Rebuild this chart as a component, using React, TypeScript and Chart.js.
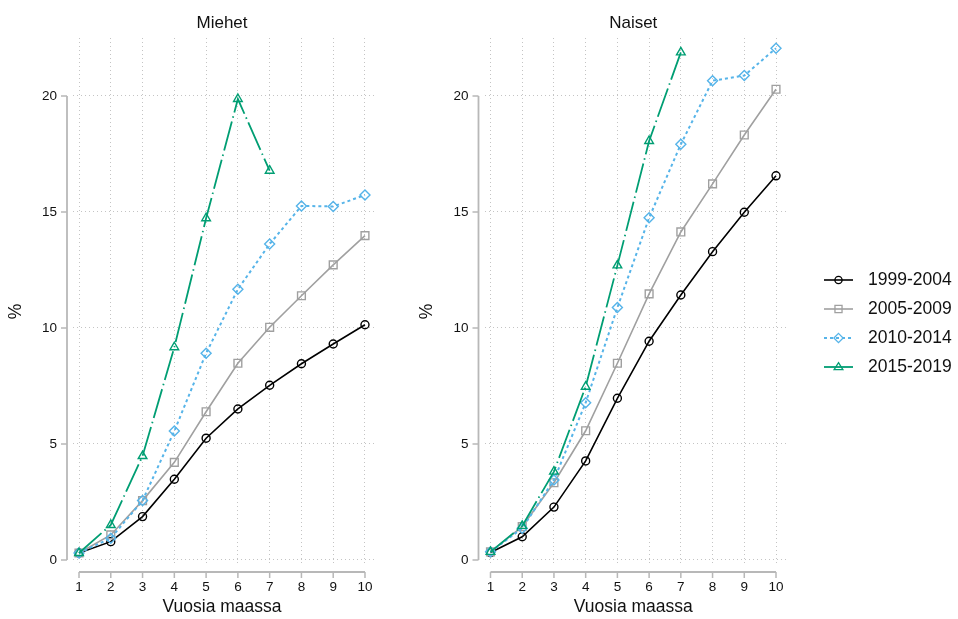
import { useEffect, useRef } from 'react';
import { Chart, registerables } from 'chart.js';

Chart.register(...registerables);

// ---------------- data ----------------
const years = [1, 2, 3, 4, 5, 6, 7, 8, 9, 10];
const seriesLabels = ['1999-2004', '2005-2009', '2010-2014', '2015-2019'];

const men1999 = [0.3, 0.79, 1.87, 3.48, 5.25, 6.51, 7.53, 8.46, 9.31, 10.14];
const men2005 = [0.3, 1.08, 2.56, 4.21, 6.39, 8.48, 10.03, 11.39, 12.72, 13.98];
const men2010 = [0.3, 0.94, 2.56, 5.56, 8.91, 11.67, 13.62, 15.26, 15.24, 15.73];
const men2015 = [0.3, 1.51, 4.48, 9.17, 14.73, 19.87, 16.78];

const women1999 = [0.32, 1.0, 2.28, 4.27, 6.97, 9.43, 11.42, 13.29, 14.99, 16.56];
const women2005 = [0.35, 1.44, 3.33, 5.57, 8.48, 11.47, 14.14, 16.21, 18.32, 20.29];
const women2010 = [0.35, 1.37, 3.45, 6.78, 10.88, 14.75, 17.92, 20.66, 20.88, 22.06];
const women2015 = [0.35, 1.47, 3.81, 7.47, 12.7, 18.06, 21.88];

const xTicks = [1, 2, 3, 4, 5, 6, 7, 8, 9, 10];
const yTicks = [0, 5, 10, 15, 20];

const titleMen = 'Miehet';
const titleWomen = 'Naiset';
const xTitle = 'Vuosia maassa';
const yTitle = '%';

// ---------------- styles ----------------
const FONT = "'Liberation Sans', Arial, Helvetica, sans-serif";
const seriesStyles = [
  { color: '#000000', dash: [] as number[], width: 1.6, point: 'circle', radius: 4, legendR: 3.6 },
  { color: '#a0a0a0', dash: [] as number[], width: 1.6, point: 'rect', radius: 5.5, legendR: 5 },
  { color: '#56b4e9', dash: [3, 3], width: 2, point: 'rectRot', radius: 5, legendR: 4.6 },
  { color: '#009e73', dash: [30, 4, 1.5, 4], width: 1.8, point: 'triangle', radius: 5, legendR: 4.6 },
];

function drawMarker(ctx: CanvasRenderingContext2D, kind: string, x: number, y: number, r: number) {
  ctx.beginPath();
  if (kind === 'circle') {
    ctx.arc(x, y, r, 0, Math.PI * 2);
  } else if (kind === 'rect') {
    const s = r * Math.SQRT1_2;
    ctx.rect(x - s, y - s, 2 * s, 2 * s);
  } else if (kind === 'rectRot') {
    ctx.moveTo(x, y - r);
    ctx.lineTo(x + r, y);
    ctx.lineTo(x, y + r);
    ctx.lineTo(x - r, y);
    ctx.closePath();
  } else {
    const h = r * 1.5;
    ctx.moveTo(x, y - h * 0.62);
    ctx.lineTo(x + r * 0.95, y + h * 0.38);
    ctx.lineTo(x - r * 0.95, y + h * 0.38);
    ctx.closePath();
  }
  ctx.stroke();
}

const stataPlugin = {
  id: 'stataAxes',
  afterDraw(chart: any, _args: any, opts: any) {
    const { ctx, chartArea, scales } = chart;
    const xs = scales.x;
    const ys = scales.y;
    ctx.save();
    const axisX = chartArea.left - 6;
    const axisY = chartArea.bottom + 7;
    ctx.strokeStyle = '#b8b8b8';
    ctx.lineWidth = 1.8;
    ctx.setLineDash([]);
    // y axis line
    ctx.beginPath();
    ctx.moveTo(axisX, ys.getPixelForValue(yTicks[0]));
    ctx.lineTo(axisX, ys.getPixelForValue(yTicks[yTicks.length - 1]));
    ctx.stroke();
    // x axis line
    ctx.beginPath();
    ctx.moveTo(xs.getPixelForValue(xTicks[0]), axisY);
    ctx.lineTo(xs.getPixelForValue(xTicks[xTicks.length - 1]), axisY);
    ctx.stroke();
    // tick marks
    ctx.lineWidth = 1.5;
    ctx.beginPath();
    yTicks.forEach((v) => {
      const p = ys.getPixelForValue(v);
      ctx.moveTo(axisX, p);
      ctx.lineTo(axisX - 6, p);
    });
    xTicks.forEach((v) => {
      const p = xs.getPixelForValue(v);
      ctx.moveTo(p, axisY);
      ctx.lineTo(p, axisY + 6);
    });
    ctx.stroke();

    ctx.fillStyle = '#111111';
    ctx.font = `13.5px ${FONT}`;
    ctx.textAlign = 'right';
    ctx.textBaseline = 'middle';
    yTicks.forEach((v) => {
      ctx.fillText(String(v), axisX - 10, ys.getPixelForValue(v) + 0.5);
    });
    ctx.textAlign = 'center';
    xTicks.forEach((v) => {
      ctx.fillText(String(v), xs.getPixelForValue(v), axisY + 15);
    });

    // titles
    const cx = (xs.getPixelForValue(xTicks[0]) + xs.getPixelForValue(xTicks[xTicks.length - 1])) / 2;
    ctx.font = `17px ${FONT}`;
    ctx.fillText(opts.title, cx, chartArea.top - 15);
    ctx.font = `17.5px ${FONT}`;
    ctx.fillText(xTitle, cx, chartArea.bottom + 42);
    ctx.save();
    ctx.translate(chartArea.left - 57, (chartArea.top + chartArea.bottom) / 2 + 10);
    ctx.rotate(-Math.PI / 2);
    ctx.fillText(yTitle, 0, 0);
    ctx.restore();

    // legend
    if (opts.legend) {
      const rows = [280, 309, 338, 367];
      const x0 = opts.legendX;
      chart.data.datasets.forEach((ds: any, i: number) => {
        const st = seriesStyles[i];
        const y = rows[i];
        ctx.strokeStyle = st.color;
        ctx.lineWidth = st.width;
        ctx.setLineDash(i === 3 ? [] : st.dash);
        ctx.beginPath();
        ctx.moveTo(x0, y);
        ctx.lineTo(x0 + 29, y);
        ctx.stroke();
        ctx.setLineDash([]);
        ctx.lineWidth = 1.3;
        drawMarker(ctx, st.point, x0 + 14.5, y, st.legendR);
        ctx.fillStyle = '#111111';
        ctx.font = `17.5px ${FONT}`;
        ctx.textAlign = 'left';
        ctx.fillText(ds.label, x0 + 44, y + 0.5);
      });
    }
    ctx.restore();
  },
};

type PanelProps = {
  title: string;
  series: number[][];
  left: number;
  width: number;
  padLeft: number;
  padRight: number;
  legend?: boolean;
  legendX?: number;
};

function Panel({ title, series, left, width, padLeft, padRight, legend, legendX }: PanelProps) {
  const ref = useRef<HTMLCanvasElement>(null);
  useEffect(() => {
    if (!ref.current) return;
    const datasets = series.map((vals, i) => {
      const st = seriesStyles[i];
      return {
        label: seriesLabels[i],
        data: vals.map((v, j) => ({ x: years[j], y: v })),
        borderColor: st.color,
        borderWidth: st.width,
        borderDash: st.dash,
        pointStyle: st.point,
        pointRadius: st.radius,
        pointBorderColor: st.color,
        pointBackgroundColor: 'rgba(255,255,255,0)',
        pointBorderWidth: 1.4,
        fill: false,
        tension: 0,
        order: series.length - 1 - i,
      };
    });
    const chart = new Chart(ref.current, {
      type: 'line',
      data: { datasets },
      plugins: [stataPlugin],
      options: {
        responsive: false,
        animation: false,
        events: [],
        devicePixelRatio: 1,
        layout: { padding: { left: padLeft, right: padRight, top: 38, bottom: 54 } },
        plugins: {
          legend: { display: false },
          tooltip: { enabled: false },
          title: { display: false },
          stataAxes: { title, legend: !!legend, legendX: legendX || 0 },
        } as any,
        scales: {
          x: {
            type: 'linear',
            min: 0.811,
            max: 10.378,
            afterBuildTicks: (s: any) => {
              s.ticks = xTicks.map((v) => ({ value: v }));
            },
            ticks: { display: false },
            grid: { color: '#c4c4c4', lineWidth: 1, drawTicks: false },
            border: { display: false, dash: [1, 3] },
          },
          y: {
            type: 'linear',
            min: -0.216,
            max: 22.5,
            afterBuildTicks: (s: any) => {
              s.ticks = yTicks.map((v) => ({ value: v }));
            },
            ticks: { display: false },
            grid: { color: '#c4c4c4', lineWidth: 1, drawTicks: false },
            border: { display: false, dash: [1, 3] },
          },
        },
      },
    });
    return () => chart.destroy();
  }, []);
  return (
    <canvas
      ref={ref}
      width={width}
      height={619}
      style={{ position: 'absolute', left, top: 0, width, height: 619, display: 'block' }}
    />
  );
}

export default function App() {
  return (
    <div style={{ position: 'absolute', left: 0, top: 0, width: 958, height: 619, background: '#ffffff', overflow: 'hidden' }}>
      <Panel
        title={titleMen}
        series={[men1999, men2005, men2010, men2015]}
        left={0}
        width={400}
        padLeft={73}
        padRight={23}
      />
      <Panel
        title={titleWomen}
        series={[women1999, women2005, women2010, women2015]}
        left={400}
        width={558}
        padLeft={84.5}
        padRight={170}
        legend
        legendX={424}
      />
    </div>
  );
}
